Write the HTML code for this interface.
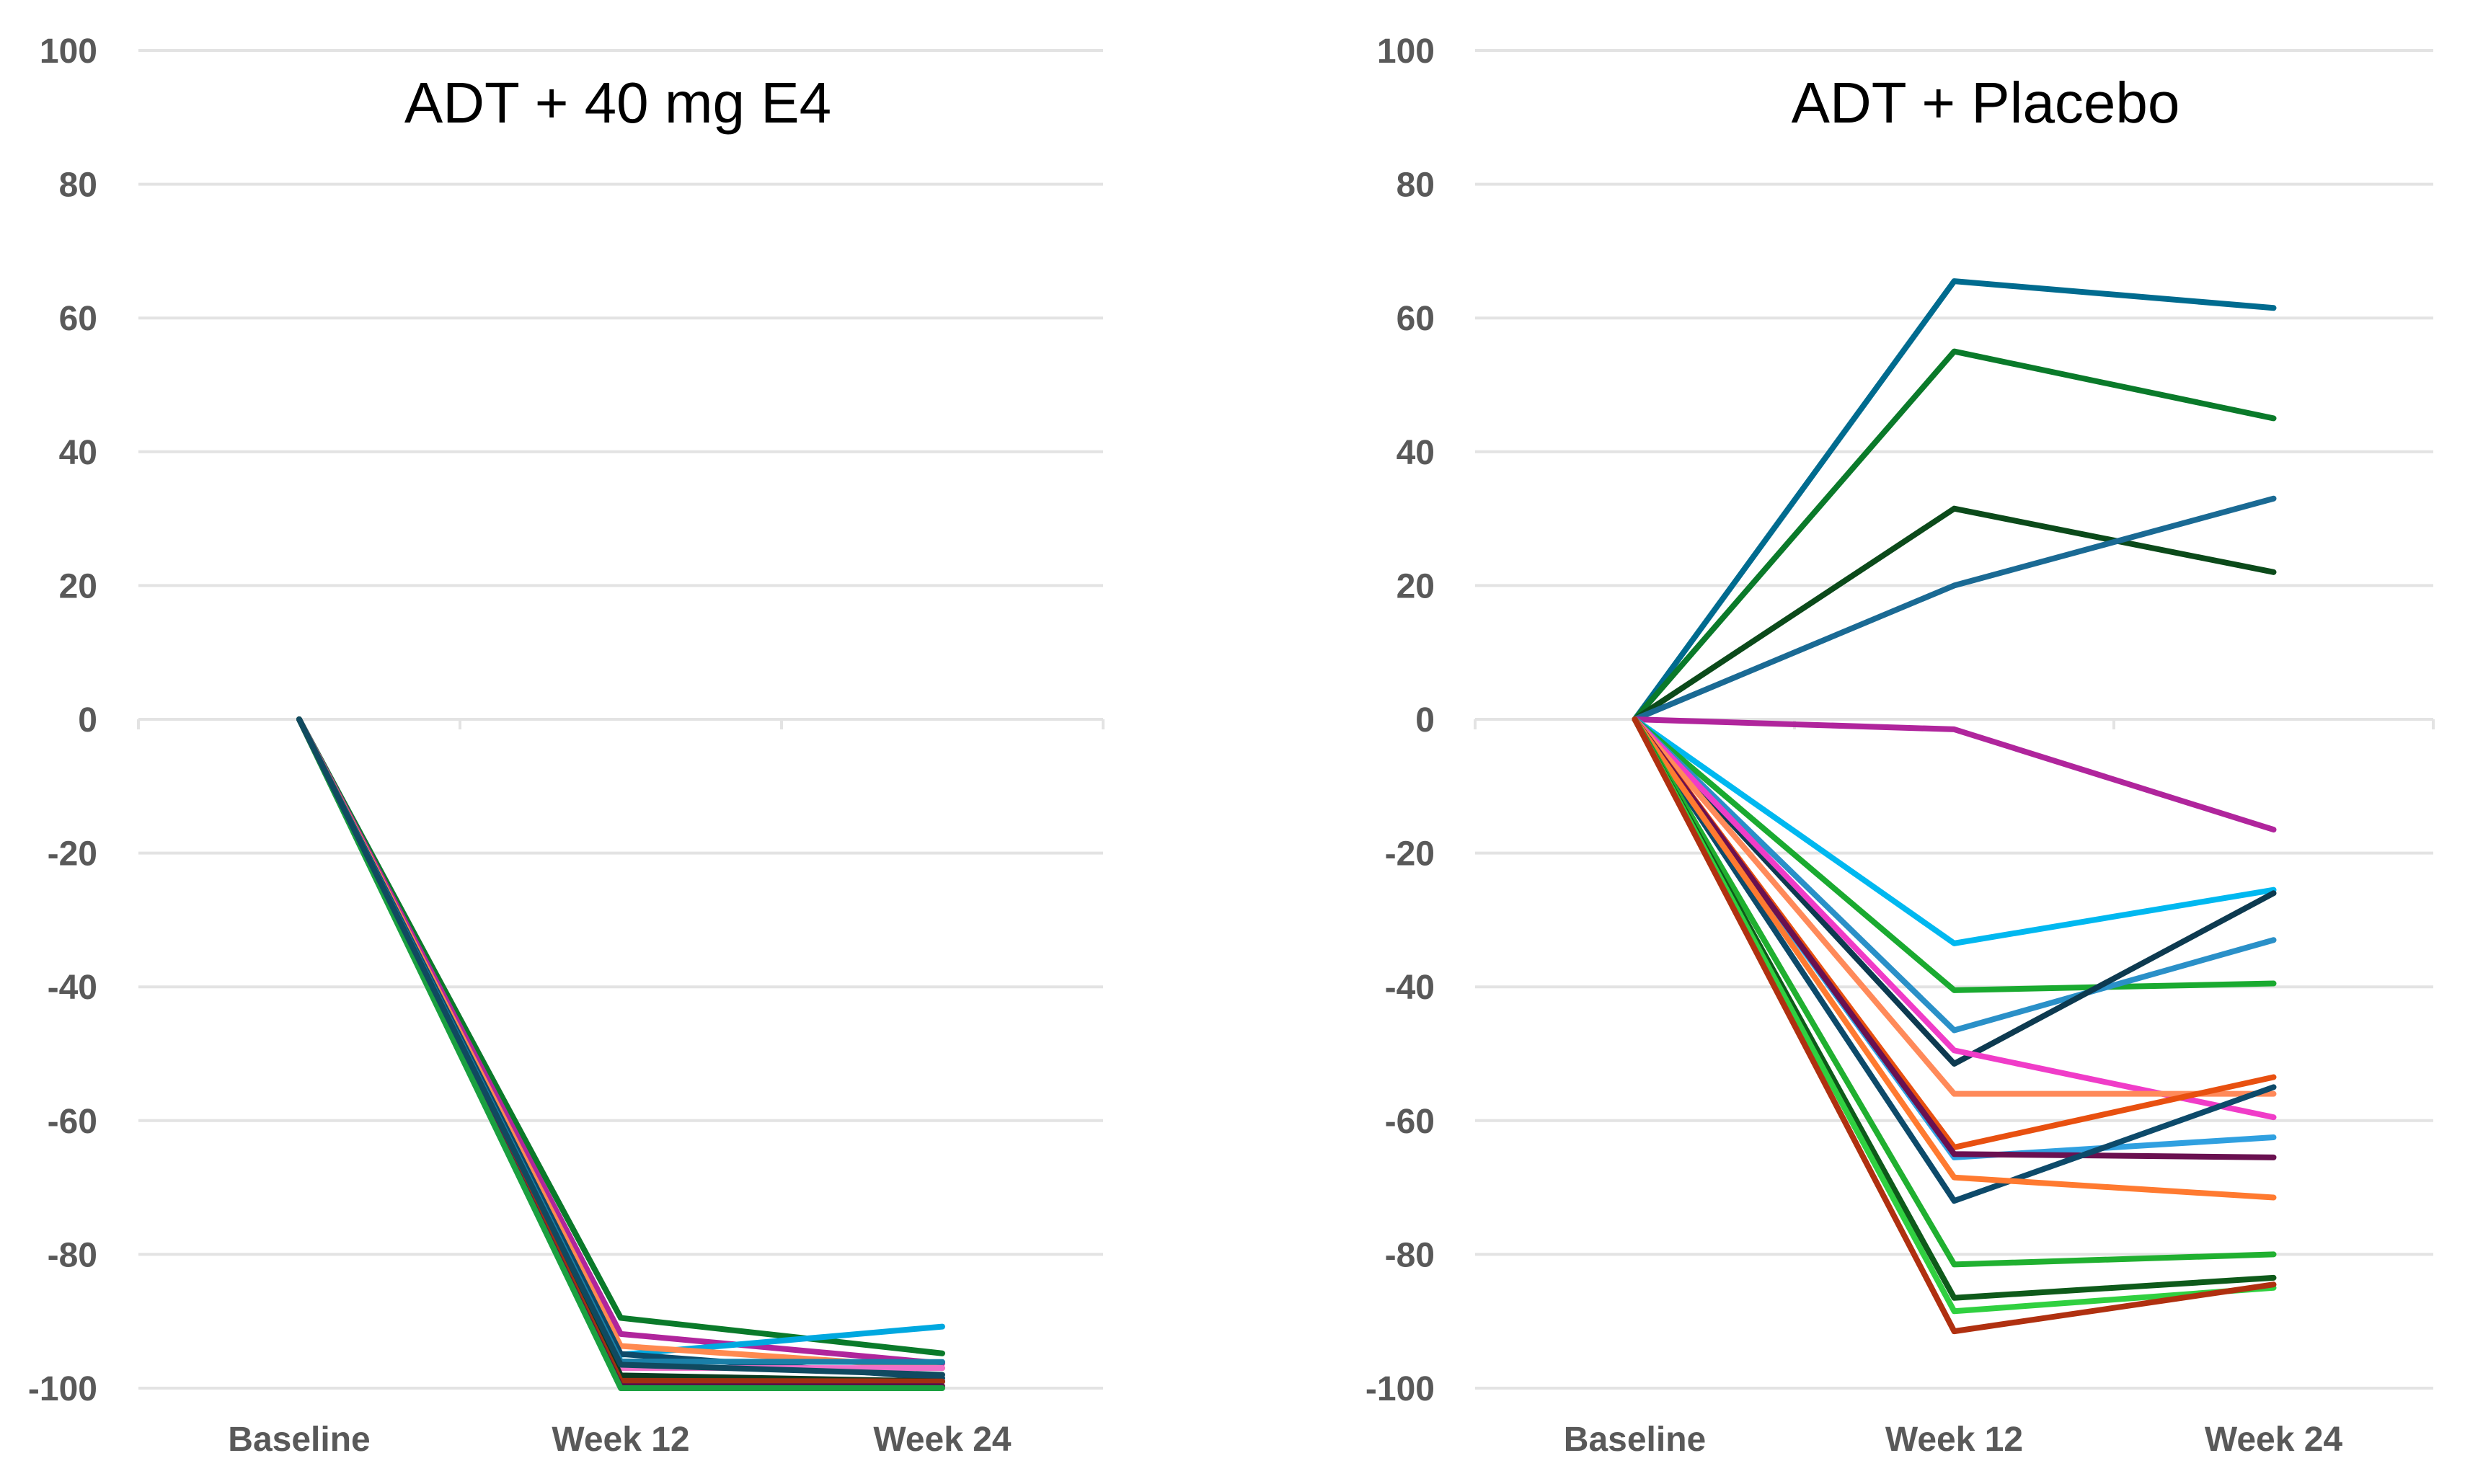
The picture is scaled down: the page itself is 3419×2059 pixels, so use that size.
<!DOCTYPE html>
<html><head><meta charset="utf-8">
<style>
html,body{margin:0;padding:0;background:#fff;}
svg{display:block;font-family:"Liberation Sans",Arial,sans-serif;}
</style></head>
<body>
<svg id="chart" width="3419" height="2059" viewBox="0 0 3419 2059" xmlns="http://www.w3.org/2000/svg"></svg>
<script>
const categories = ["Baseline", "Week 12", "Week 24"];
const yTicks = [100, 80, 60, 40, 20, 0, -20, -40, -60, -80, -100];
const leftTitle = "ADT + 40 mg E4";
const rightTitle = "ADT + Placebo";
const leftColors = ["#0a7a2a","#b0259c","#00a8e0","#ff8a50","#0d4a6a","#1a7fa8","#f070c8","#0b3a20","#a03010","#5a1048","#1aa040","#104a60"];
const leftW12 = [-89.5,-91.9,-95,-93.7,-94.9,-96,-97,-98.1,-98.9,-99.7,-100,-96.5];
const leftW24 = [-94.8,-96.3,-90.8,-97,-98.5,-96.1,-97,-99,-99,-99.7,-100,-98];
const rightColors = ["#006b8f","#0a7a2a","#0b4a1a","#1a6a94","#b0259c","#00b8f0","#1aaa30","#2a90c8","#0d3a50","#f03cc8","#ff8a5a","#e85010","#30a0e0","#6a1050","#0d4a6a","#ff7a30","#20b030","#0e5a1a","#30d040","#b03010"];
const rightW12 = [65.5,55,31.5,20,-1.5,-33.5,-40.5,-46.5,-51.5,-49.5,-56,-64,-65.5,-65,-72,-68.5,-81.5,-86.5,-88.5,-91.5];
const rightW24 = [61.5,45,22,33,-16.5,-25.5,-39.5,-33,-26,-59.5,-56,-53.5,-62.5,-65.5,-55,-71.5,-80,-83.5,-85,-84.5];

const NS = "http://www.w3.org/2000/svg";
const svg = document.getElementById("chart");
function el(tag, attrs, parent){const e=document.createElementNS(NS,tag);for(const k in attrs)e.setAttribute(k,attrs[k]);(parent||svg).appendChild(e);return e;}
const yTop = 70, yBot = 1926;
function yScale(v){return yBot - (v + 100) / 200 * (yBot - yTop);}

function drawPanel(x0, x1, labelRight, title, titleX, colors, w12, w24, panelName){
  const g = el("g", {});
  
  
  const band = (x1 - x0) / categories.length;
  function xScale(i){return x0 + band * (i + 0.5);}
  yTicks.forEach(v=>{
    const y = yScale(v);
    const line = el("line",{x1:x0,x2:x1,y1:y,y2:y,stroke:"#e3e3e3","stroke-width":4},g);
    
    
    const t = el("text",{x:labelRight,y:y+17,"text-anchor":"end","font-size":48,"font-weight":"bold",fill:"#595959"},g);
    t.textContent = v;
    
    
  });
  for(let i=0;i<=categories.length;i++){
    const x = x0 + band*i;
    const tk = el("line",{x1:x,x2:x,y1:yScale(0),y2:yScale(0)+14,stroke:"#e3e3e3","stroke-width":4},g);
    
    
  }
  categories.forEach((c,i)=>{
    const t = el("text",{x:xScale(i),y:2013,"text-anchor":"middle","font-size":48,"font-weight":"bold",fill:"#595959"},g);
    t.textContent = c;
    
    
  });
  const tt = el("text",{x:titleX,y:170,"text-anchor":"middle","font-size":80,fill:"#000"},g);
  tt.textContent = title;
  
  
  colors.forEach((col,i)=>{
    const vals = [0, w12[i], w24[i]];
    const pts = vals.map((v,j)=>xScale(j)+","+yScale(v)).join(" ");
    const pl = el("polyline",{points:pts,fill:"none",stroke:col,"stroke-width":8,"stroke-linejoin":"round","stroke-linecap":"round"},g);
    
    
  });
}
drawPanel(192, 1530, 135, leftTitle, 857, leftColors, leftW12, leftW24, "panel-e4");
drawPanel(2046, 3375, 1990, rightTitle, 2754, rightColors, rightW12, rightW24, "panel-placebo");
</script>
</body></html>
